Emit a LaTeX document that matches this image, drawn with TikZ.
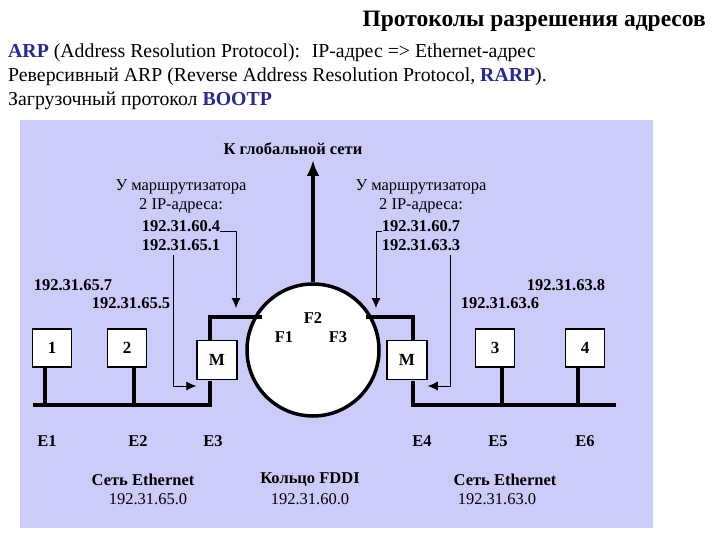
\documentclass[tikz,border=0pt]{standalone}
\usepackage{fontspec}
\setmainfont{Liberation Serif}
\usetikzlibrary{arrows.meta}
\begin{document}
\begin{tikzpicture}[x=1pt,y=-1pt,
 lbl/.style={font=\fontsize{16.5}{17}\selectfont\bfseries, inner sep=0pt},
 lbn/.style={font=\fontsize{16.5}{17}\selectfont, inner sep=0pt},
 host/.style={draw, line width=1.5pt, fill=white, minimum width=39pt, minimum height=38pt, font=\fontsize{17}{18}\selectfont\bfseries, inner sep=0pt},
 thickl/.style={line width=3.5pt},
 thinl/.style={line width=0.8pt},
 hd/.style={-{Latex[length=10pt,width=9pt]}}]
\definecolor{panel}{RGB}{204,204,250}
\definecolor{hl}{RGB}{40,40,150}
\useasboundingbox (0,0) rectangle (720,540);
\fill[white] (0,0) rectangle (720,540);
\node[anchor=east, font=\fontsize{23.5}{25}\selectfont\bfseries, inner sep=0pt] (title) at (706,21) {Протоколы разрешения адресов};
\node[anchor=west, font=\fontsize{19.8}{21}\selectfont, inner sep=0pt] (l1) at (8,53) {\textcolor{hl}{\textbf{ARP}} (Address Resolution Protocol): \ IP-адрес => Ethernet-адрес};
\node[anchor=west, font=\fontsize{19.8}{21}\selectfont, inner sep=0pt] (l2) at (8,77) {Реверсивный ARP (Reverse Address Resolution Protocol, \textcolor{hl}{\textbf{RARP}}).};
\node[anchor=west, font=\fontsize{19.8}{21}\selectfont, inner sep=0pt] (l3) at (8,101) {Загрузочный протокол \textcolor{hl}{\textbf{BOOTP}}};
\fill[panel] (20,120) rectangle (653,528);
% ring
\node[draw, line width=3.5pt, fill=white, circle, minimum size=132pt] (ring) at (313,350) {};
\node[lbl] (f2) at (313,318) {F2};
\node[lbl] (f1) at (284,337) {F1};
\node[lbl] (f3) at (338,337) {F3};
\coordinate (gtop) at (313,160);
\draw[thickl, -{Latex[length=16pt,width=13pt]}] (ring.north) -- (gtop);
\node[lbl] (glob) at (293,149) {К глобальной сети};
% hosts
\node[host] (h1) at (52,348) {1};
\node[host] (h2) at (127,348) {2};
\node[host] (h3) at (495,348) {3};
\node[host] (h4) at (585,348) {4};
\node[host, minimum width=40pt, minimum height=39pt] (m1) at (217,360) {M};
\node[host, minimum width=40pt, minimum height=39pt] (m2) at (407,360) {M};
% buses
\coordinate (bl) at (33,405); \coordinate (br) at (616,405);
\draw[thickl] (bl) -- (210,405) -- (210,380.5);
\draw[thickl] (210,341) -- (210,317) -- (262,317);
\draw[thickl] (br) -- (413,405) -- (413,380.5);
\draw[thickl] (413,341) -- (413,317) -- (366,317);
\draw[thickl] (45,405) -- (45,367);
\draw[thickl] (134,405) -- (134,367);
\draw[thickl] (502,405) -- (502,367);
\draw[thickl] (578,405) -- (578,367);
% address labels
\node[lbl] (a657) at (73,285) {192.31.65.7};
\node[lbl] (a655) at (131,303) {192.31.65.5};
\node[lbl] (a638) at (566,285) {192.31.63.8};
\node[lbl] (a636) at (500,303) {192.31.63.6};
% router labels
\node[lbn] (r1a) at (181,187) {У маршрутизатора};
\node[lbn] (r1b) at (181,206) {2 IP-адреса:};
\node[lbl] (r1c) at (181,226) {192.31.60.4};
\node[lbl] (r1d) at (181,245) {192.31.65.1};
\node[lbn] (r2a) at (421,187) {У маршрутизатора};
\node[lbn] (r2b) at (421,206) {2 IP-адреса:};
\node[lbl] (r2c) at (421,226) {192.31.60.7};
\node[lbl] (r2d) at (421,245) {192.31.63.3};
\draw[thinl, hd] (r1c.south east) -| (236,308);
\draw[thinl, hd] (173,255) |- (m1.south west |- 0,386);
\draw[thinl, hd] (r2c.south west) -| (376,308);
\draw[thinl, hd] (450,255) |- (m2.south east |- 0,386);
% bottom
\foreach \n/\x in {E1/47,E2/138,E3/213,E4/422,E5/498,E6/585}
  \node[lbl] (\n) at (\x,441) {\n};
\node[lbl] (s1) at (143,480) {Сеть Ethernet};
\node[lbl] (s2) at (310,480) {Кольцо FDDI};
\node[lbl] (s3) at (505,480) {Сеть Ethernet};
\node[lbn] (n1) at (148,499) {192.31.65.0};
\node[lbn] (n2) at (310,499) {192.31.60.0};
\node[lbn] (n3) at (497,499) {192.31.63.0};
\end{tikzpicture}
\end{document}
